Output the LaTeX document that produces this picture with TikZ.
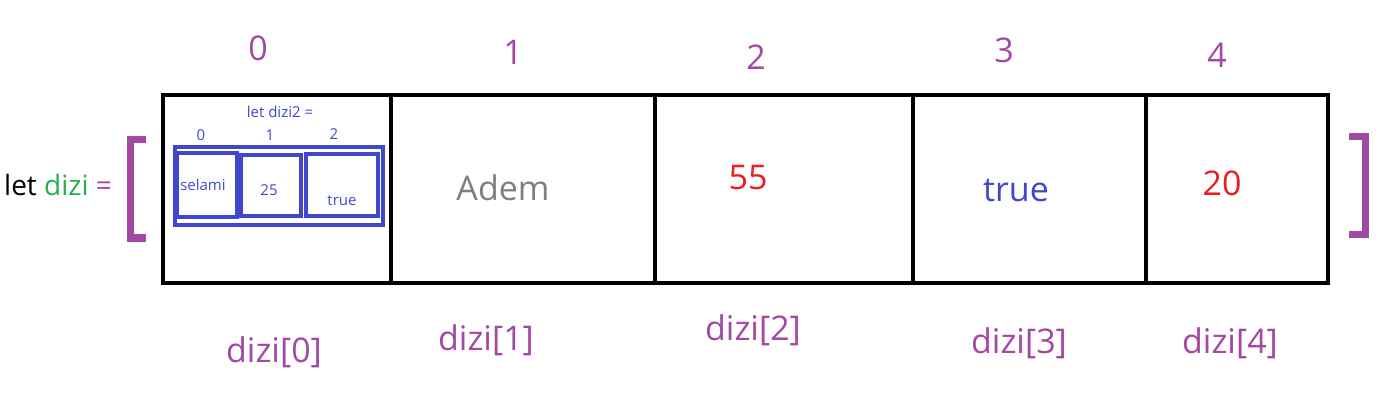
\documentclass[tikz,border=0pt]{standalone}
\usepackage{fontspec}
\setmainfont{Open Sans}
\usetikzlibrary{positioning}
\usetikzlibrary{calc}
\definecolor{ppurple}{HTML}{A349A4}
\definecolor{pgreen}{HTML}{22B14C}
\definecolor{pred}{HTML}{ED1C24}
\definecolor{pblue}{HTML}{3F48CC}
\definecolor{pgrey}{HTML}{7F7F7F}
\tikzset{cell/.style={draw,rectangle,line width=4pt,inner sep=0pt,minimum height=188pt}}
\tikzset{idx/.style={text=ppurple,inner sep=0pt,font=\fontsize{34}{40}\selectfont}}
\tikzset{acc/.style={text=ppurple,inner sep=0pt,font=\fontsize{34}{40}\selectfont}}
\tikzset{val/.style={inner sep=0pt,font=\fontsize{34}{40}\selectfont}}
\tikzset{sml/.style={text=pblue,inner sep=0pt,font=\fontsize{15}{18}\selectfont}}
\tikzset{ibox/.style={draw=pblue,rectangle,line width=4pt,inner sep=0pt}}
\tikzset{brk/.style={draw=ppurple,line width=7pt}}

\begin{document}
\begin{tikzpicture}[x=1pt,y=-1pt]
    \useasboundingbox (0,0) rectangle (1392,406);

    \node (lhs) [inner sep=0pt,font=\fontsize{28}{34}\selectfont,anchor=west] at (4,185)
        {let \textcolor{pgreen}{dizi} \textcolor{ppurple}{=}};

    \coordinate (lb) at (130,189);
    \coordinate (rb) at (1365,186);
    \draw[brk] ($(lb)+(16,-49)$) -- ($(lb)+(0,-49)$) -- ($(lb)+(0,49)$) -- ($(lb)+(16,49)$);
    \draw[brk] ($(rb)+(-16,-49)$) -- ($(rb)+(0,-49)$) -- ($(rb)+(0,49)$) -- ($(rb)+(-16,49)$);

    \node[cell, minimum width=228pt] (c0) at (277,189) {};
    \node[cell, minimum width=264pt] (c1) at (523,189) {};
    \node[cell, minimum width=258pt] (c2) at (784,189) {};
    \node[cell, minimum width=233pt] (c3) at (1029.5,189) {};
    \node[cell, minimum width=182pt] (c4) at (1237,189) {};

    \node[idx] (i0) at (258,48) {0};
    \node[idx] (i1) at (513,52) {1};
    \node[idx] (i2) at (756,57) {2};
    \node[idx] (i3) at (1004,50) {3};
    \node[idx] (i4) at (1217,55) {4};

    \node[acc] (a0) at (274,352) {dizi[0]};
    \node[acc] (a1) at (486,340) {dizi[1]};
    \node[acc] (a2) at (753,330) {dizi[2]};
    \node[acc] (a3) at (1019,343) {dizi[3]};
    \node[acc] (a4) at (1230,343) {dizi[4]};

    \node[val, text=pgrey] (v1) at (503,188) {Adem};
    \node[val, text=pred] (v2) at (748,178) {55};
    \node[val, text=pblue] (v3) at (1016,190) {true};
    \node[val, text=pred] (v4) at (1222,183) {20};

    % inner array
    \node[sml] (d2) at (280,112) {let dizi2 =};
    \node[ibox, minimum width=208pt, minimum height=78pt] (outer) at (279,186) {};
    \node[ibox, minimum width=60pt, minimum height=64pt] (b0) at (207,185) {};
    \node[ibox, minimum width=60pt, minimum height=61pt] (b1) at (271,185.5) {};
    \node[ibox, minimum width=72pt, minimum height=62pt] (b2) at (342,185) {};
    \node[sml] (j0) at (201,135) {0};
    \node[sml] (j1) at (270,135) {1};
    \node[sml] (j2) at (334,134) {2};
    \node[sml] (e0) at (203,185) {selami};
    \node[sml] (e1) at (269,190) {25};
    \node[sml] (e2) at (342,201) {true};
\end{tikzpicture}
\end{document}
